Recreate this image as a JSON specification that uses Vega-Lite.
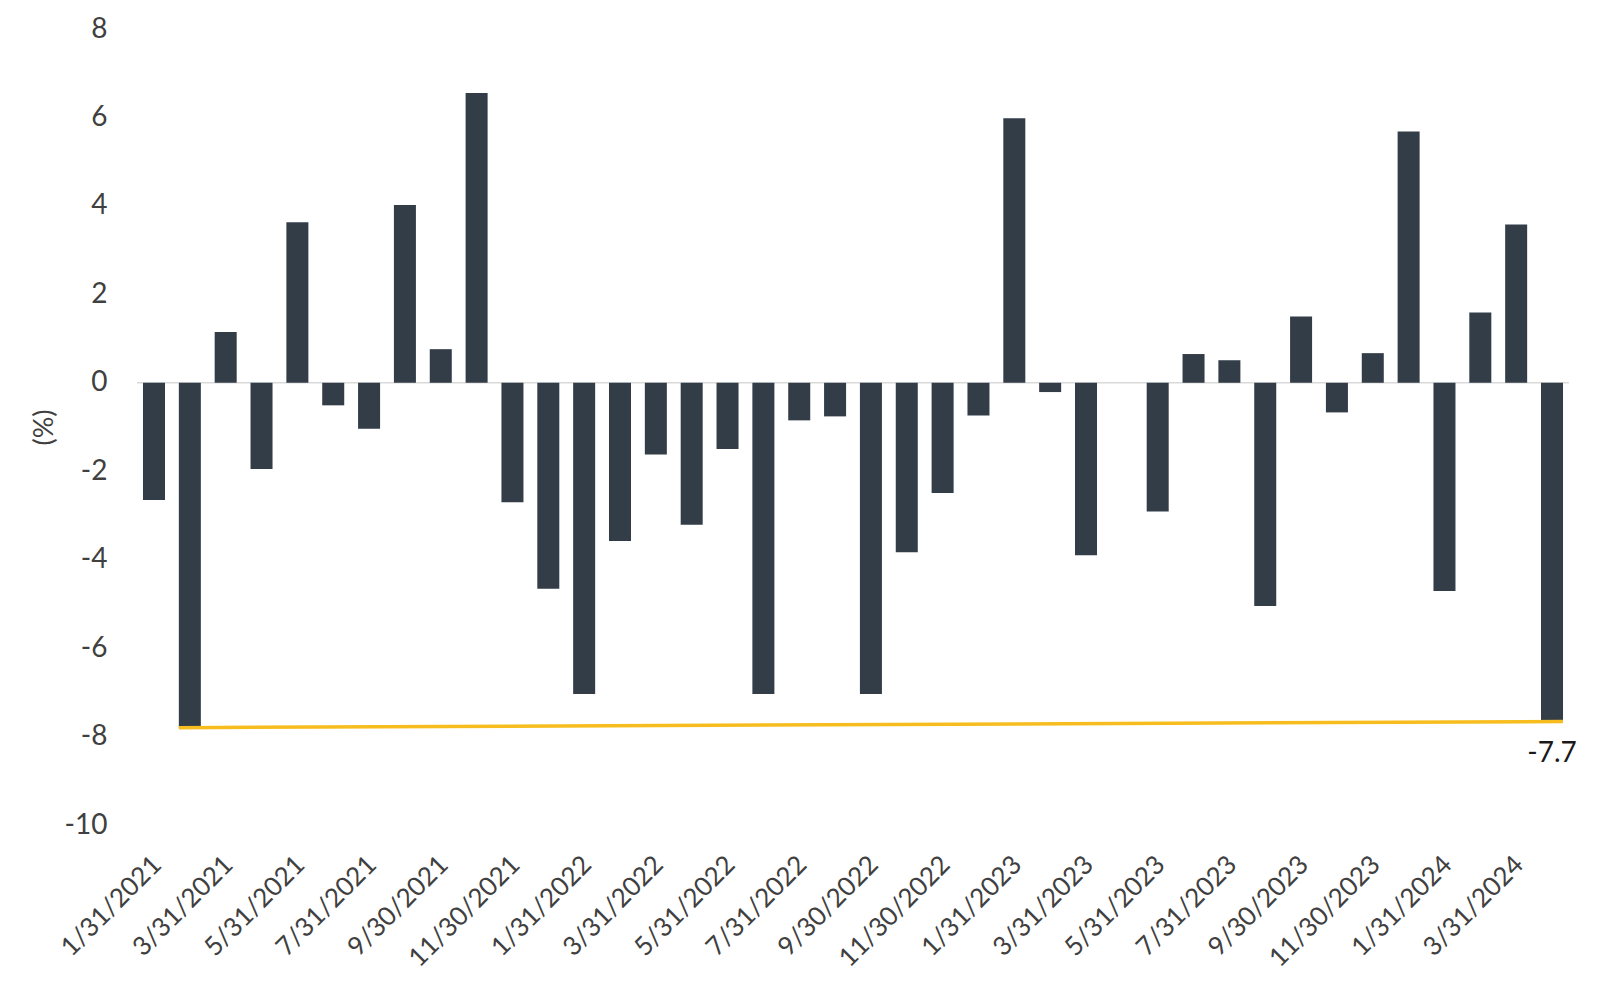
{
  "$schema": "https://vega.github.io/schema/vega-lite/v6.json",
  "autosize": {"type": "none"},
  "padding": {"left": 137, "top": 29, "right": 31, "bottom": 169},
  "width": 1432,
  "height": 796,
  "background": "white",
  "config": {
    "view": {"stroke": null},
    "font": "Lato",
    "axis": {"labelFont": "Lato", "titleFont": "Lato"}
  },
  "datasets": {
    "bars": [
      {"date": "1/31/2021", "value": -2.65},
      {"date": "2/28/2021", "value": -7.8},
      {"date": "3/31/2021", "value": 1.15},
      {"date": "4/30/2021", "value": -1.95},
      {"date": "5/31/2021", "value": 3.63},
      {"date": "6/30/2021", "value": -0.51},
      {"date": "7/31/2021", "value": -1.04},
      {"date": "8/31/2021", "value": 4.02},
      {"date": "9/30/2021", "value": 0.76},
      {"date": "10/31/2021", "value": 6.55},
      {"date": "11/30/2021", "value": -2.7},
      {"date": "12/31/2021", "value": -4.66},
      {"date": "1/31/2022", "value": -7.04},
      {"date": "2/28/2022", "value": -3.58},
      {"date": "3/31/2022", "value": -1.62},
      {"date": "4/30/2022", "value": -3.21},
      {"date": "5/31/2022", "value": -1.5},
      {"date": "6/30/2022", "value": -7.04},
      {"date": "7/31/2022", "value": -0.85},
      {"date": "8/31/2022", "value": -0.76},
      {"date": "9/30/2022", "value": -7.04},
      {"date": "10/31/2022", "value": -3.83},
      {"date": "11/30/2022", "value": -2.49},
      {"date": "12/31/2022", "value": -0.74},
      {"date": "1/31/2023", "value": 5.98},
      {"date": "2/28/2023", "value": -0.21},
      {"date": "3/31/2023", "value": -3.9},
      {"date": "4/30/2023", "value": 0},
      {"date": "5/31/2023", "value": -2.91},
      {"date": "6/30/2023", "value": 0.65},
      {"date": "7/31/2023", "value": 0.51},
      {"date": "8/31/2023", "value": -5.05},
      {"date": "9/30/2023", "value": 1.5},
      {"date": "10/31/2023", "value": -0.67},
      {"date": "11/30/2023", "value": 0.67},
      {"date": "12/31/2023", "value": 5.68},
      {"date": "1/31/2024", "value": -4.71},
      {"date": "2/29/2024", "value": 1.59},
      {"date": "3/31/2024", "value": 3.58},
      {"date": "4/30/2024", "value": -7.66}
    ],
    "trend": [
      {"start": "2/28/2021", "end": "4/30/2024", "from": -7.8, "to": -7.66}
    ],
    "label": [
      {"date": "4/30/2024", "value": -7.66, "text": "-7.7"}
    ]
  },
  "layer": [
    {
      "data": {"values": [{"zero": 0}]},
      "mark": {"type": "rule", "color": "#d9d9d9", "strokeWidth": 1.5},
      "encoding": {"y": {"field": "zero", "type": "quantitative", "scale": {"domain": [-10, 8]}}}
    },
    {
      "data": {"name": "bars"},
      "mark": {"type": "bar", "color": "#333d48"},
      "encoding": {
        "x": {
          "field": "date",
          "type": "ordinal",
          "sort": null,
          "scale": {"paddingInner": 0.386, "paddingOuter": 0.167},
          "axis": {
            "title": null,
            "values": ["1/31/2021", "3/31/2021", "5/31/2021", "7/31/2021", "9/30/2021", "11/30/2021", "1/31/2022", "3/31/2022", "5/31/2022", "7/31/2022", "9/30/2022", "11/30/2022", "1/31/2023", "3/31/2023", "5/31/2023", "7/31/2023", "9/30/2023", "11/30/2023", "1/31/2024", "3/31/2024"],
            "labelAngle": -45,
            "labelFontSize": 26,
            "labelColor": "#404040",
            "labelPadding": 26,
            "labelOffset": -6,
            "ticks": false,
            "domain": false,
            "grid": false
          }
        },
        "y": {
          "field": "value",
          "type": "quantitative",
          "scale": {"domain": [-10, 8], "nice": false, "zero": false},
          "axis": {
            "title": "(%)",
            "titleFontSize": 27,
            "titleFontWeight": "normal",
            "titleColor": "#404040",
            "titlePadding": 6,
            "values": [-10, -8, -6, -4, -2, 0, 2, 4, 6, 8],
            "labelExpr": "'' + datum.value",
            "labelFontSize": 28,
            "labelColor": "#404040",
            "labelPadding": 30,
            "ticks": false,
            "domain": false,
            "grid": false
          }
        }
      }
    },
    {
      "data": {"name": "trend"},
      "mark": {"type": "rule", "color": "#f7bd1e", "strokeWidth": 3.5},
      "encoding": {
        "x": {"field": "start", "type": "ordinal", "sort": null, "bandPosition": 0},
        "x2": {"field": "end", "bandPosition": 1},
        "y": {"field": "from", "type": "quantitative"},
        "y2": {"field": "to"}
      }
    },
    {
      "data": {"name": "label"},
      "mark": {"type": "text", "fontSize": 28, "color": "#1a1a1a", "dy": 32, "align": "center"},
      "encoding": {
        "x": {"field": "date", "type": "ordinal", "sort": null},
        "y": {"field": "value", "type": "quantitative"},
        "text": {"field": "text"}
      }
    }
  ]
}
